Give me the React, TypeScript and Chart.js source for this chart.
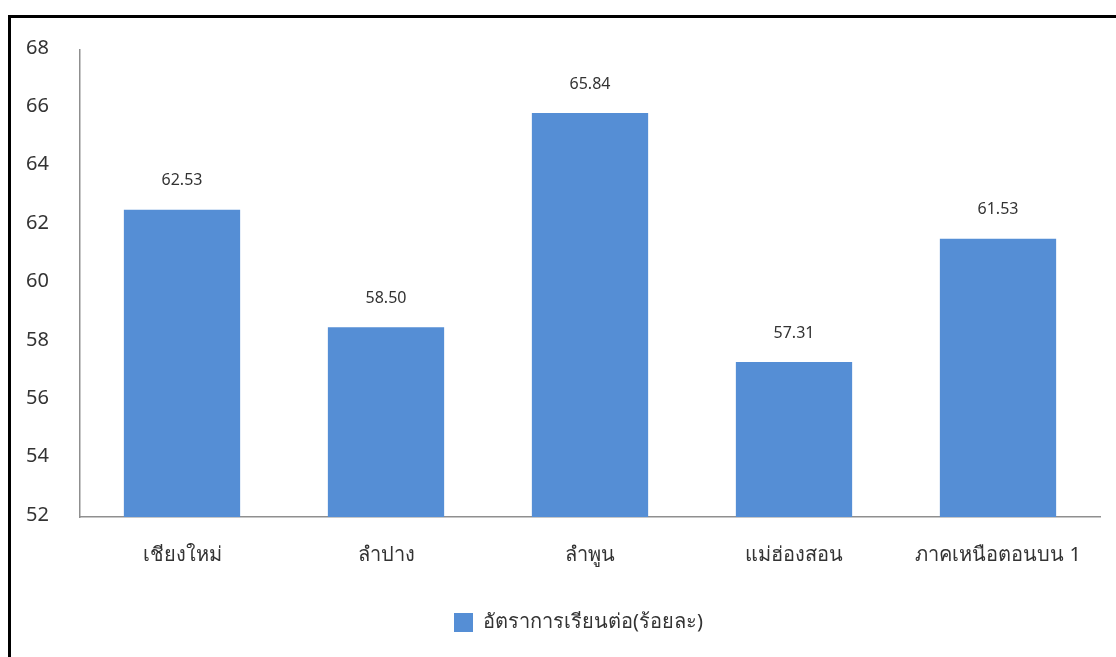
import React, { useEffect, useRef } from "react";
import { Chart, registerables } from "chart.js";

Chart.register(...registerables);

const categories = ["เชียงใหม่", "ลำปาง", "ลำพูน", "แม่ฮ่องสอน", "ภาคเหนือตอนบน 1"];
const values = [62.53, 58.5, 65.84, 57.31, 61.53];
const seriesLabel = "อัตราการเรียนต่อ(ร้อยละ)";
const yMin = 52;
const yMax = 68;
const yStep = 2;

const FONT = "'Noto Sans', 'Open Sans', sans-serif";
const TEXT = "#333333";
const BAR = "#558ED5";
const AXIS = "#8f8f8f";

const valueLabels = {
  id: "valueLabels",
  afterDatasetsDraw(chart: any) {
    const ctx = chart.ctx;
    const meta = chart.getDatasetMeta(0);
    ctx.save();
    ctx.font = `16px ${FONT}`;
    ctx.fillStyle = TEXT;
    ctx.textAlign = "center";
    ctx.textBaseline = "middle";
    meta.data.forEach((bar: any, i: number) => {
      ctx.fillText(values[i].toFixed(2), bar.x, bar.y - 29);
    });
    ctx.restore();
  },
};

const legendShift = {
  id: "legendShift",
  afterLayout(chart: any) {
    const lg = chart.legend;
    if (lg) {
      lg.left += 28.5;
      lg.right += 28.5;
    }
  },
};

export default function App() {
  const ref = useRef<HTMLCanvasElement | null>(null);
  useEffect(() => {
    if (!ref.current) return;
    const chart = new Chart(ref.current, {
      type: "bar",
      data: {
        labels: categories,
        datasets: [
          {
            label: seriesLabel,
            data: values,
            backgroundColor: BAR,
            borderWidth: 0,
            barPercentage: 0.57,
            categoryPercentage: 1,
          },
        ],
      },
      options: {
        responsive: false,
        animation: false,
        layout: { padding: { left: 0, right: 16, top: 50, bottom: 14.5 } },
        plugins: {
          tooltip: { enabled: false },
          legend: {
            position: "bottom",
            labels: {
              boxWidth: 19,
              boxHeight: 19,
              padding: 10,
              color: TEXT,
              font: { family: FONT, size: 20 },
            },
          },
        },
        scales: {
          x: {
            grid: { display: false, drawTicks: false },
            border: { display: true, color: AXIS, width: 1.5 },
            ticks: { color: TEXT, font: { family: FONT, size: 20 }, padding: 26, maxRotation: 0 },
            afterFit: (s: any) => {
              s.height = 85.5;
            },
          },
          y: {
            min: yMin,
            max: yMax,
            grid: { display: false, drawTicks: false },
            border: { display: true, color: AXIS, width: 1.5 },
            ticks: {
              stepSize: yStep,
              color: TEXT,
              font: { family: FONT, size: 20 },
              padding: 31,
              labelOffset: -2,
            },
            afterFit: (s: any) => {
              s.width = 80;
            },
          },
        },
      },
      plugins: [valueLabels, legendShift],
    });
    return () => chart.destroy();
  }, []);

  return (
    <div style={{ position: "fixed", left: 0, top: 0, width: 1116, height: 657, background: "#fff", overflow: "hidden" }}>
      <div
        style={{
          position: "absolute",
          left: 8,
          top: 15,
          width: 2000,
          height: 2000,
          borderLeft: "3px solid #000",
          borderTop: "3px solid #000",
        }}
      />
      <canvas ref={ref} width={1116} height={657} style={{ position: "absolute", left: 0, top: 0 }} />
    </div>
  );
}
